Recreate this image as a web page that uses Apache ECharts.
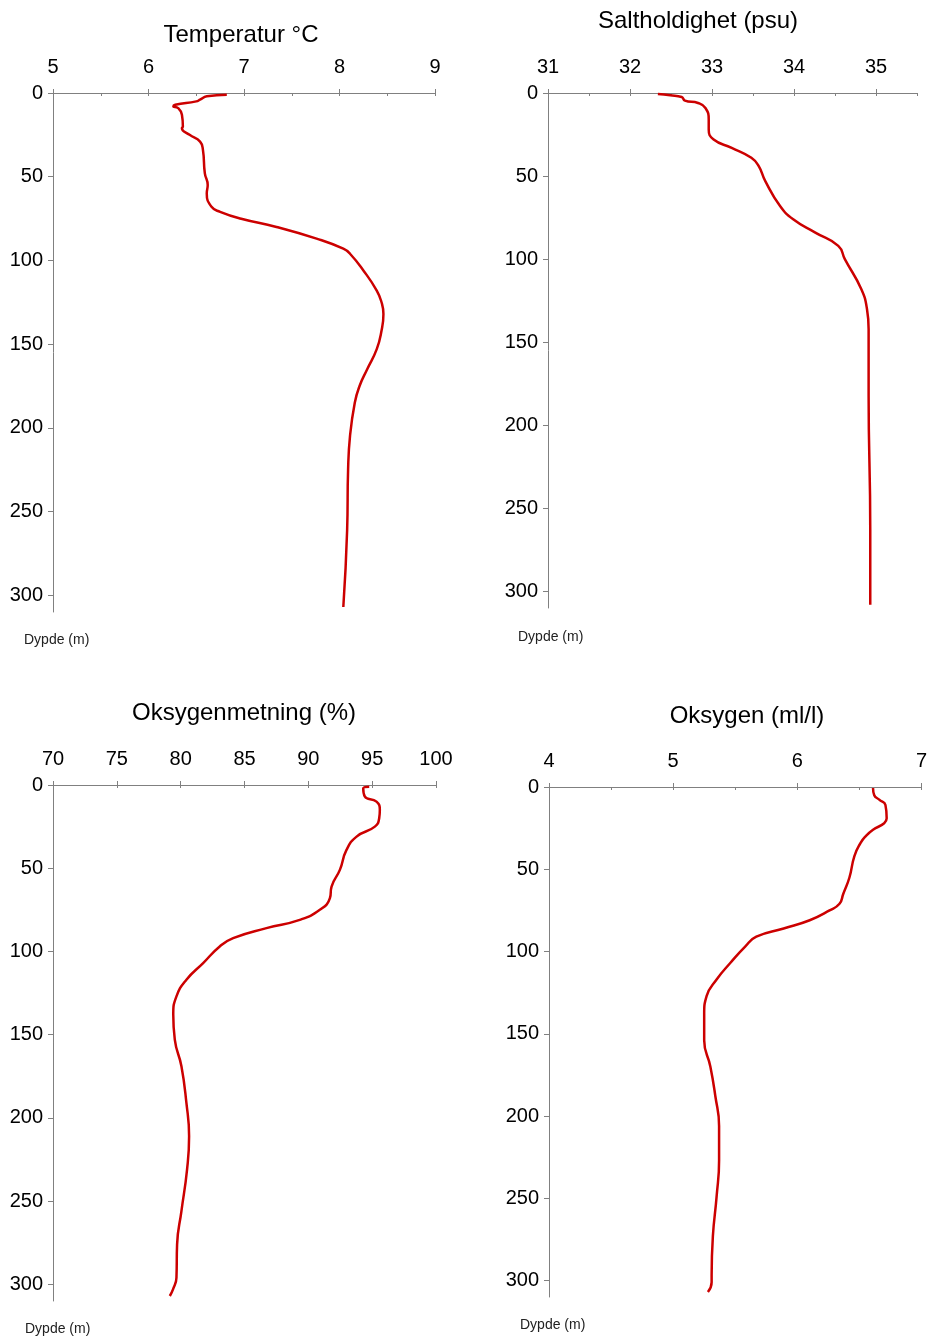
<!DOCTYPE html>
<html>
<head>
<meta charset="utf-8">
<title>CTD-profil</title>
<script src="https://cdn.jsdelivr.net/npm/echarts@6/dist/echarts.min.js"></script>
<style>
html, body { margin: 0; padding: 0; background: #fff; }
#chart { width: 930px; height: 1337px; }
</style>
</head>
<body>
<div id="chart"></div>
<script>
// dybde (m) og verdier lest av figuren
var tempDepth = [1, 2, 4, 5, 7, 8, 9, 13, 20, 21, 25, 29, 34, 48, 55, 60, 68, 71, 75, 80, 87, 93, 96, 106, 118, 125, 132, 142, 153, 165, 175, 185, 205, 225, 261, 307];
var tempValues = [6.82, 6.61, 6.54, 6.50, 6.28, 6.26, 6.31, 6.35, 6.36, 6.35, 6.43, 6.54, 6.57, 6.59, 6.62, 6.61, 6.66, 6.75, 6.96, 7.34, 7.76, 8.04, 8.11, 8.25, 8.39, 8.44, 8.46, 8.44, 8.39, 8.29, 8.21, 8.16, 8.11, 8.09, 8.08, 8.04];

var saltDepth = [0.6, 1.4, 2.4, 4.6, 6, 9, 16, 22, 28, 33, 39, 44, 53, 68, 76, 84, 92, 100, 118, 130, 142, 182, 263, 308];
var saltValues = [32.34, 32.49, 32.63, 32.67, 32.83, 32.92, 32.96, 32.96, 33.02, 33.24, 33.48, 33.57, 33.65, 33.83, 33.99, 34.26, 34.54, 34.62, 34.82, 34.89, 34.91, 34.91, 34.93, 34.93];

var oxySatDepth = [1, 2, 7, 10, 15, 20, 25, 31, 39, 51, 61, 68, 75, 81, 86, 92, 97, 107, 117, 127, 138, 153, 169, 191, 211, 231, 256, 276, 296, 303, 307];
var oxySatValues = [94.77, 94.30, 94.43, 95.34, 95.60, 95.55, 95.21, 93.78, 92.99, 92.47, 91.82, 91.69, 90.90, 89.33, 86.72, 84.11, 83.06, 81.76, 80.45, 79.67, 79.42, 79.54, 80.06, 80.45, 80.66, 80.50, 80.06, 79.72, 79.67, 79.40, 79.15];

var oxyDepth = [0.6, 5, 7.7, 11, 19, 22, 26, 30, 34, 42, 55, 65, 71, 75, 81, 86, 91, 97, 107, 117, 127, 138, 154, 170, 188, 206, 227, 249, 273, 297, 301, 307];
var oxyValues = [6.61, 6.62, 6.66, 6.71, 6.72, 6.70, 6.61, 6.55, 6.51, 6.46, 6.42, 6.37, 6.34, 6.26, 6.10, 5.89, 5.67, 5.58, 5.46, 5.35, 5.27, 5.25, 5.25, 5.30, 5.34, 5.37, 5.37, 5.35, 5.32, 5.31, 5.31, 5.28];

// akser
var depthTicks = [0, 50, 100, 150, 200, 250, 300];
var tempTicks = [5, 6, 7, 8, 9];
var tempMinor = [5, 5.5, 6, 6.5, 7, 7.5, 8, 8.5, 9];
var saltTicks = [31, 32, 33, 34, 35];
var saltMinor = [31, 31.5, 32, 32.5, 33, 33.5, 34, 34.5, 35, 35.5];
var oxySatTicks = [70, 75, 80, 85, 90, 95, 100];
var oxyTicks = [4, 5, 6, 7];
var oxyMinor = [4, 4.5, 5, 5.5, 6, 6.5, 7];

var titles = ['Temperatur °C', 'Saltholdighet (psu)', 'Oksygenmetning (%)', 'Oksygen (ml/l)'];
var depthName = 'Dypde (m)';

var font = 'Liberation Sans, Arial, sans-serif';
var axisGrey = '#808080';

var panels = [
    { left: 53, top: 93, width: 382, height: 519, min: 5, max: 9,
      ticks: tempTicks, minor: tempMinor, depth: tempDepth, values: tempValues,
      titleX: 241, titleY: 35, nameX: 24, nameY: 640 },
    { left: 548, top: 93, width: 369, height: 515, min: 31, max: 35.5,
      ticks: saltTicks, minor: saltMinor, depth: saltDepth, values: saltValues,
      titleX: 698, titleY: 21, nameX: 518, nameY: 637 },
    { left: 53, top: 785, width: 383, height: 516, min: 70, max: 100,
      ticks: oxySatTicks, minor: oxySatTicks, depth: oxySatDepth, values: oxySatValues,
      titleX: 244, titleY: 713, nameX: 25, nameY: 1329 },
    { left: 549, top: 787, width: 375, height: 510, min: 4, max: 7,
      ticks: oxyTicks, minor: oxyMinor, depth: oxyDepth, values: oxyValues,
      titleX: 747, titleY: 716, nameX: 520, nameY: 1325 }
];

var grids = [], xAxes = [], yAxes = [], series = [], graphics = [];

panels.forEach(function (p, i) {
    grids.push({ left: p.left, top: p.top, width: p.width, height: p.height });

    // hovedakse med tall, streker opp
    xAxes.push({
        gridIndex: i, type: 'value', position: 'top', min: p.min, max: p.max,
        axisLine: { show: true, lineStyle: { color: axisGrey, width: 1 } },
        axisTick: { show: true, inside: false, length: 4, customValues: p.ticks,
                    lineStyle: { color: axisGrey } },
        axisLabel: { customValues: p.ticks, margin: 16, fontSize: 20,
                     color: '#000', fontFamily: font },
        splitLine: { show: false }
    });
    // små streker ned
    xAxes.push({
        gridIndex: i, type: 'value', position: 'top', min: p.min, max: p.max,
        axisLine: { show: false },
        axisTick: { show: true, inside: true, length: 3, customValues: p.minor,
                    lineStyle: { color: axisGrey } },
        axisLabel: { show: false },
        splitLine: { show: false }
    });

    yAxes.push({
        gridIndex: i, type: 'value', inverse: true, min: 0, max: 310,
        axisLine: { show: true, lineStyle: { color: axisGrey, width: 1 } },
        axisTick: { show: true, length: 5, customValues: depthTicks,
                    lineStyle: { color: axisGrey } },
        axisLabel: { customValues: depthTicks, margin: 10, fontSize: 20,
                     color: '#000', fontFamily: font },
        splitLine: { show: false }
    });

    series.push({
        type: 'line',
        xAxisIndex: i * 2,
        yAxisIndex: i,
        data: p.values.map(function (v, k) { return [v, p.depth[k]]; }),
        showSymbol: false,
        smooth: 0.5,
        silent: true,
        lineStyle: { color: '#cc0000', width: 2.5 }
    });

    graphics.push({
        type: 'text', x: p.titleX, y: p.titleY,
        style: { text: titles[i], fontSize: 24, fontFamily: font, fill: '#000',
                 align: 'center', verticalAlign: 'middle' }
    });
    graphics.push({
        type: 'text', x: p.nameX, y: p.nameY,
        style: { text: depthName, fontSize: 14, fontFamily: font, fill: '#222',
                 align: 'left', verticalAlign: 'middle' }
    });
});

var myChart = echarts.init(document.getElementById('chart'));
myChart.setOption({
    animation: false,
    backgroundColor: '#fff',
    grid: grids,
    xAxis: xAxes,
    yAxis: yAxes,
    series: series,
    graphic: graphics
});
</script>
</body>
</html>
